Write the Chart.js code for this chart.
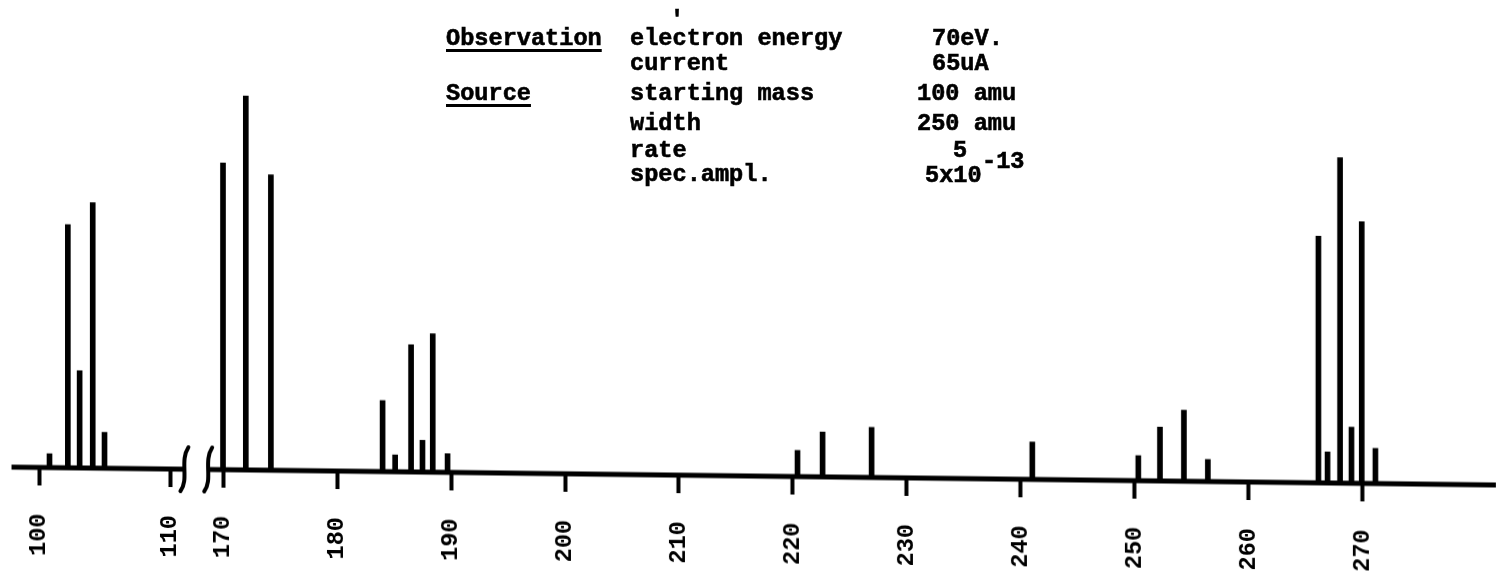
<!DOCTYPE html>
<html>
<head>
<meta charset="utf-8">
<title>Mass spectrum 100-270 amu</title>
<script src="https://cdn.jsdelivr.net/npm/chart.js@4.4.1/dist/chart.umd.min.js"></script>
<style>
  html, body { margin: 0; padding: 0; background: #fff; }
  #wrap { position: relative; width: 1496px; height: 583px; overflow: hidden; }
  /* the recorder trace drifts downward to the right */
  #spectrum { position: absolute; left: 0; top: 0; transform: skewY(0.69deg); transform-origin: 748px 291.5px; }
  .note { position: absolute; font: bold 23.6px "Liberation Mono", monospace; line-height: 1; white-space: pre; color: #000; -webkit-text-stroke: 0.6px #000; }
  .ul { text-decoration: underline; text-decoration-thickness: 3px; text-underline-offset: 4px; }
</style>
</head>
<body>
<div id="wrap">
  <canvas id="spectrum" width="1496" height="583"></canvas>

  <div class="note" style="left:670px;top:9px">'</div>
  <div class="note ul" style="left:446px;top:27px">Observation</div>
  <div class="note" style="left:630px;top:27px">electron energy</div>
  <div class="note" style="left:932px;top:27px">70eV.</div>
  <div class="note" style="left:630px;top:52px">current</div>
  <div class="note" style="left:932px;top:52px">65uA</div>
  <div class="note ul" style="left:446px;top:82px">Source</div>
  <div class="note" style="left:630px;top:82px">starting mass</div>
  <div class="note" style="left:917px;top:82px">100 amu</div>
  <div class="note" style="left:630px;top:112px">width</div>
  <div class="note" style="left:917px;top:112px">250 amu</div>
  <div class="note" style="left:630px;top:139px">rate</div>
  <div class="note" style="left:953px;top:139px">5</div>
  <div class="note" style="left:630px;top:163px">spec.ampl.</div>
  <div class="note" style="left:925px;top:164px">5x10</div>
  <div class="note" style="left:982px;top:150px">-13</div>
</div>

<script>
// peak positions (amu) and heights (% of the tallest peak)
const peakMasses = [100.8, 102.2, 103.1, 104.1, 105.0,
  170, 172, 174.2,
  184.0, 185.1, 186.5, 187.5, 188.4, 189.7,
  220.4, 222.6, 226.9, 241.0,
  250.3, 252.2, 254.3, 256.4,
  266.1, 266.9, 268.0, 269.0, 269.9, 271.1];
const peakHeights = [3.7, 65, 26, 71, 9.6,
  82, 100, 79,
  19, 4.5, 34, 8.5, 37, 5,
  7, 12, 13.4, 10,
  6.7, 14.4, 19, 5.9,
  66, 8.3, 87, 15, 70, 9.4];
const tickMasses = [100, 110, 170, 180, 190, 200, 210, 220, 230, 240, 250, 260, 270];

// axis is broken between 110 and 170; the low section is drawn a bit wider
const LOW_STRETCH = 1.149;
const GAP = 4.65;
const BREAK_LEFT = 111.1;
const BREAK_RIGHT = 168.7;
const axisPos = m => m < 140 ? (m - 100) * LOW_STRETCH : 10 * LOW_STRETCH + GAP + (m - 170);

const peaks = peakMasses.map((m, i) => ({ x: axisPos(m), y: peakHeights[i] }));
const baseline = [
  { x: axisPos(97.9), y: 0 },
  { x: axisPos(BREAK_LEFT), y: 0 },
  { x: axisPos(140), y: null },
  { x: axisPos(BREAK_RIGHT), y: 0 },
  { x: axisPos(281.7), y: 0 }
];

const monoFont = { family: '"Liberation Mono", monospace', size: 23.6, weight: 'bold' };

// little squiggles where the mass axis is cut
const breakMarks = {
  id: 'breakMarks',
  afterDatasetsDraw(chart) {
    const { ctx, scales: { x, y } } = chart;
    const y0 = y.getPixelForValue(0);
    ctx.save();
    ctx.strokeStyle = '#000';
    ctx.lineWidth = 4;
    ctx.lineCap = 'round';
    [BREAK_LEFT, BREAK_RIGHT].forEach(m => {
      const px = x.getPixelForValue(axisPos(m));
      ctx.beginPath();
      ctx.moveTo(px + 4, y0 - 22);
      ctx.bezierCurveTo(px - 5, y0 - 8, px + 5, y0 + 10, px - 4, y0 + 22);
      ctx.stroke();
    });
    ctx.restore();
  }
};

new Chart(document.getElementById('spectrum').getContext('2d'), {
  type: 'bar',
  data: {
    datasets: [
      {
        type: 'line',
        data: baseline,
        borderColor: '#000',
        borderWidth: 5,
        pointRadius: 0,
        spanGaps: false,
        clip: false,
        order: 0
      },
      {
        type: 'bar',
        data: peaks,
        backgroundColor: '#000',
        barThickness: 5,
        order: 1
      }
    ]
  },
  options: {
    responsive: false,
    animation: false,
    layout: { padding: 0 },
    plugins: {
      legend: { display: false },
      tooltip: { enabled: false }
    },
    scales: {
      x: {
        type: 'linear',
        min: axisPos(97.02),
        max: axisPos(281.67),
        offset: false,
        afterBuildTicks: scale => {
          scale.ticks = tickMasses.map(m => ({ value: axisPos(m) }));
        },
        afterFit: scale => { scale.height = 107; },
        ticks: {
          autoSkip: false,
          minRotation: 90,
          maxRotation: 90,
          padding: 28,
          color: '#000',
          font: monoFont,
          callback: (v, i) => String(tickMasses[i])
        },
        grid: {
          offset: false,
          drawOnChartArea: false,
          drawTicks: true,
          tickLength: 18,
          tickWidth: 4,
          tickColor: '#000'
        },
        border: { display: false }
      },
      y: {
        display: false,
        min: 0,
        max: 127.3
      }
    }
  },
  plugins: [breakMarks]
});
</script>
</body>
</html>
